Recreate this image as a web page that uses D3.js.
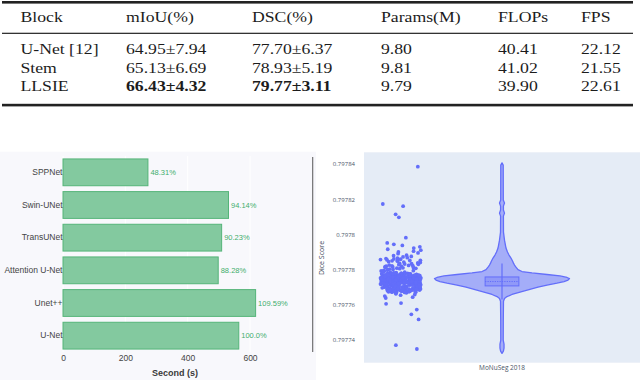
<!DOCTYPE html>
<html>
<head>
    <title>Block comparison, training time and Dice distribution</title>
    <script src="https://d3js.org/d3.v7.min.js"></script>
    <style>
        body {
            margin: 0;
            padding: 0;
            background-color: #fff;
        }
        svg {
            display: block;
        }
    </style>
</head>
<body>
    <svg id="figure"></svg>
    <script>
        // ---- table data ----
        const tableHeader = ['Block', 'mIoU(%)', 'DSC(%)', 'Params(M)', 'FLOPs', 'FPS'];
        const blocks = ['U-Net [12]', 'Stem', 'LLSIE'];
        const miou = ['64.95\u00b17.94', '65.13\u00b16.69', '66.43\u00b14.32'];
        const dsc = ['77.70\u00b16.37', '78.93\u00b15.19', '79.77\u00b13.11'];
        const params = ['9.80', '9.81', '9.79'];
        const flops = ['40.41', '41.02', '39.90'];
        const fps = ['22.12', '21.55', '22.61'];
        const bestBlock = 'LLSIE';

        // ---- bar chart data ----
        const methods = ['SPPNet', 'Swin-UNet', 'TransUNet', 'Attention U-Net', 'Unet++', 'U-Net'];
        const seconds = [272.5, 531, 509, 498, 618, 564];
        const relLabels = ['48.31%', '94.14%', '90.23%', '88.28%', '109.59%', '100.0%'];
        const barTicks = [0, 200, 400, 600];

        // ---- violin / strip data ----
        const dataset = 'MoNuSeg 2018';
        const diceTicks = [0.79774, 0.79776, 0.79778, 0.7978, 0.79782, 0.79784];
        const diceTickLabels = ['0.79774', '0.79776', '0.79778', '0.7978', '0.79782', '0.79784'];
        const stripScores = [
            0.7978385, 0.7978172, 0.7978160, 0.7978113, 0.7978096,
            0.7977980, 0.7977950, 0.7977942, 0.7977936,
            0.7977928, 0.7977921, 0.7977914, 0.7977909, 0.7977903, 0.7977899, 0.7977893, 0.7977889,
            0.7977880, 0.7977877, 0.7977873, 0.7977870, 0.7977866, 0.7977864, 0.7977861, 0.7977859,
            0.7977857, 0.7977855, 0.7977853, 0.7977852, 0.7977851, 0.7977850,
            0.7977848, 0.7977846, 0.7977843, 0.7977841, 0.7977839, 0.7977836, 0.7977834, 0.7977832,
            0.7977830, 0.7977828, 0.7977826, 0.7977824, 0.7977822, 0.7977821, 0.7977819, 0.7977818,
            0.7977817, 0.7977815, 0.7977813, 0.7977811, 0.7977810, 0.7977808, 0.7977806, 0.7977805,
            0.7977803, 0.7977801, 0.7977799, 0.7977797, 0.7977795, 0.7977794, 0.7977792, 0.7977790,
            0.7977788, 0.7977786, 0.7977784, 0.7977782, 0.7977781, 0.7977779,
            0.7977777, 0.7977776, 0.7977775, 0.7977774, 0.7977773, 0.7977772, 0.7977771, 0.7977770,
            0.7977769, 0.7977768, 0.7977768, 0.7977767, 0.7977766, 0.7977766, 0.7977765, 0.7977765,
            0.7977764, 0.7977764, 0.7977763, 0.7977763, 0.7977762, 0.7977762, 0.7977761, 0.7977761,
            0.7977760, 0.7977760, 0.7977759, 0.7977759, 0.7977758, 0.7977758, 0.7977758, 0.7977757,
            0.7977757, 0.7977757, 0.7977756, 0.7977756, 0.7977756, 0.7977755, 0.7977755, 0.7977755,
            0.7977754, 0.7977754, 0.7977754, 0.7977753, 0.7977753, 0.7977753, 0.7977752, 0.7977752,
            0.7977752, 0.7977751, 0.7977751, 0.7977751, 0.7977750, 0.7977750, 0.7977750, 0.7977749,
            0.7977749, 0.7977749, 0.7977748, 0.7977748, 0.7977748, 0.7977747, 0.7977747, 0.7977747,
            0.7977747, 0.7977746, 0.7977746, 0.7977746, 0.7977745, 0.7977745, 0.7977745, 0.7977744,
            0.7977744, 0.7977744, 0.7977743, 0.7977743, 0.7977743, 0.7977742, 0.7977742, 0.7977742,
            0.7977741, 0.7977741, 0.7977741, 0.7977740, 0.7977740, 0.7977739, 0.7977739, 0.7977738,
            0.7977738, 0.7977737, 0.7977737, 0.7977736, 0.7977736, 0.7977735, 0.7977735, 0.7977734,
            0.7977734, 0.7977733, 0.7977732, 0.7977731, 0.7977730, 0.7977729, 0.7977728, 0.7977727,
            0.7977726, 0.7977725, 0.7977724, 0.7977723, 0.7977722, 0.7977721, 0.7977720, 0.7977719,
            0.7977718, 0.7977717, 0.7977716, 0.7977714, 0.7977712, 0.7977710, 0.7977708, 0.7977706,
            0.7977704, 0.7977702, 0.7977700, 0.7977698, 0.7977696, 0.7977694, 0.7977692, 0.7977690,
            0.7977687, 0.7977684, 0.7977681, 0.7977678, 0.7977675, 0.7977672, 0.7977669, 0.7977666,
            0.7977776, 0.7977770, 0.7977763, 0.7977757, 0.7977751, 0.7977744, 0.7977738, 0.7977731,
            0.7977725, 0.7977718, 0.7977712, 0.7977705, 0.7977699, 0.7977692, 0.7977686, 0.7977679, 0.7977673,
            0.7977774, 0.7977768, 0.7977761, 0.7977755, 0.7977748, 0.7977742, 0.7977735, 0.7977729,
            0.7977722, 0.7977716, 0.7977709, 0.7977703, 0.7977696, 0.7977690, 0.7977683, 0.7977677, 0.7977670,
            0.7977777, 0.7977771, 0.7977765, 0.7977759, 0.7977752, 0.7977746, 0.7977740, 0.7977733,
            0.7977727, 0.7977720, 0.7977714, 0.7977707, 0.7977701, 0.7977694, 0.7977688, 0.7977681, 0.7977675,
            0.7977773, 0.7977767, 0.7977760, 0.7977754, 0.7977747, 0.7977741, 0.7977734, 0.7977728,
            0.7977721, 0.7977715, 0.7977708, 0.7977702, 0.7977695, 0.7977689, 0.7977682, 0.7977676, 0.7977669,
            0.7977775, 0.7977769, 0.7977762, 0.7977756, 0.7977750, 0.7977743, 0.7977737, 0.7977730,
            0.7977724, 0.7977717, 0.7977711, 0.7977704, 0.7977698, 0.7977691, 0.7977685, 0.7977678, 0.7977672,
            0.7977776, 0.7977769, 0.7977764, 0.7977758, 0.7977753, 0.7977745, 0.7977739, 0.7977732,
            0.7977726, 0.7977719, 0.7977713, 0.7977706, 0.7977700, 0.7977693, 0.7977687, 0.7977680, 0.7977674,
            0.7977772, 0.7977766, 0.7977759, 0.7977753, 0.7977746, 0.7977740, 0.7977733, 0.7977727,
            0.7977720, 0.7977714, 0.7977707, 0.7977701, 0.7977694, 0.7977688, 0.7977681, 0.7977675, 0.7977668,
            0.7977777, 0.7977770, 0.7977764, 0.7977757, 0.7977751, 0.7977744, 0.7977738, 0.7977731,
            0.7977725, 0.7977718, 0.7977712, 0.7977705, 0.7977699, 0.7977692, 0.7977686, 0.7977679, 0.7977673,
            0.7977774, 0.7977767, 0.7977761, 0.7977755, 0.7977749, 0.7977742, 0.7977736, 0.7977729,
            0.7977723, 0.7977716, 0.7977710, 0.7977703, 0.7977697, 0.7977690, 0.7977684, 0.7977677, 0.7977671,
            0.7977663, 0.7977660, 0.7977656, 0.7977652, 0.7977647, 0.7977641, 0.7977636,
            0.7977607, 0.7977603, 0.7977570, 0.7977543, 0.7977514, 0.7977367, 0.7977345
        ];
        // violin outline: score and relative density (peak = 1)
        const violinScores = [
            0.7978407, 0.7978394, 0.7978195, 0.7978178, 0.7978160, 0.7978138, 0.7978120, 0.7978103,
            0.7978012, 0.7977966, 0.7977921, 0.7977898, 0.7977881, 0.7977864, 0.7977847, 0.7977835,
            0.7977824, 0.7977812, 0.7977798, 0.7977787, 0.7977779, 0.7977770, 0.7977762, 0.7977753,
            0.7977747, 0.7977738, 0.7977730, 0.7977721, 0.7977710, 0.7977698, 0.7977684, 0.7977670,
            0.7977656, 0.7977644, 0.7977633, 0.7977618, 0.7977510, 0.7977396, 0.7977373, 0.7977350,
            0.7977333, 0.7977320
        ];
        const violinDensity = [
            0, 0.018, 0.019, 0.037, 0.021, 0.021, 0.037, 0.021,
            0.022, 0.037, 0.059, 0.081, 0.104, 0.133, 0.156, 0.170,
            0.185, 0.207, 0.237, 0.296, 0.444, 0.667, 0.859, 0.963,
            1, 0.978, 0.919, 0.815, 0.667, 0.533, 0.4, 0.267,
            0.148, 0.074, 0.037, 0.022, 0.019, 0.018, 0.03, 0.03,
            0.021, 0
        ];
        const boxStats = { lowerFence: 0.7977628, q1: 0.7977705, median: 0.7977730, q3: 0.7977756, upperFence: 0.7977833 };

        const svg = d3.select('#figure')
            .attr('width', 640)
            .attr('height', 380);

        svg.append('rect').attr('width', 640).attr('height', 380).attr('fill', '#fff');

        // ================= table =================
        const table = svg.append('g')
            .attr('font-family', '"Liberation Serif", "DejaVu Serif", serif')
            .attr('font-size', 15)
            .attr('fill', '#1c1c1c');
        const colX = [20.5, 126, 252, 381, 498, 581];
        const stretch = 1.18;

        function cell(x, y, txt, bold) {
            table.append('text')
                .attr('transform', `translate(${x},${y}) scale(${stretch},1)`)
                .attr('font-weight', bold ? 'bold' : null)
                .text(txt);
        }

        table.append('rect').attr('x', 2).attr('y', 1).attr('width', 631).attr('height', 2.6).attr('fill', '#222');
        table.append('rect').attr('x', 2).attr('y', 32.7).attr('width', 631).attr('height', 1.3).attr('fill', '#333');
        table.append('rect').attr('x', 2).attr('y', 103.8).attr('width', 631).attr('height', 2.6).attr('fill', '#222');

        tableHeader.forEach((h, j) => cell(colX[j], 21.7, h, false));
        const rowY = [54.3, 72.7, 91];
        blocks.forEach((b, i) => {
            const row = [b, miou[i], dsc[i], params[i], flops[i], fps[i]];
            row.forEach((t, j) => cell(colX[j], rowY[i], t, b === bestBlock && (j === 1 || j === 2)));
        });

        // ================= bar chart =================
        const barFont = '"Liberation Sans", Arial, sans-serif';
        svg.append('rect')
            .attr('x', 0).attr('y', 151.7)
            .attr('width', 316).attr('height', 228.3)
            .attr('fill', '#f8f8fc');

        const xBar = d3.scaleLinear().domain([0, 720]).range([63, 287.4]);
        const yBar = d3.scaleBand().domain(methods).range([156, 352]).paddingInner(0.18).paddingOuter(0.09);

        svg.append('g')
            .selectAll('line')
            .data(barTicks)
            .join('line')
            .attr('x1', d => xBar(d)).attr('x2', d => xBar(d))
            .attr('y1', 156).attr('y2', 352)
            .attr('stroke', '#fff')
            .attr('stroke-width', 1);

        const barData = methods.map((m, i) => ({ method: m, sec: seconds[i], label: relLabels[i] }));

        svg.append('g')
            .selectAll('rect')
            .data(barData)
            .join('rect')
            .attr('x', xBar(0))
            .attr('y', d => yBar(d.method))
            .attr('width', d => xBar(d.sec) - xBar(0))
            .attr('height', yBar.bandwidth())
            .attr('fill', '#83c99f')
            .attr('stroke', '#55b479')
            .attr('stroke-width', 1);

        svg.append('g')
            .selectAll('text')
            .data(barData)
            .join('text')
            .attr('x', d => xBar(d.sec) + 2.5)
            .attr('y', d => yBar(d.method) + yBar.bandwidth() / 2)
            .attr('dy', '0.35em')
            .attr('font-family', barFont)
            .attr('font-size', 7.5)
            .attr('fill', '#3fae6c')
            .text(d => d.label);

        const xAxisBar = svg.append('g')
            .attr('transform', 'translate(0,352)')
            .call(d3.axisBottom(xBar).tickValues(barTicks).tickSize(0).tickPadding(2.5));
        xAxisBar.select('.domain').remove();
        xAxisBar.selectAll('text')
            .attr('font-family', barFont)
            .attr('font-size', 8.5)
            .attr('fill', '#444');

        const yAxisBar = svg.append('g')
            .attr('transform', `translate(${xBar(0)},0)`)
            .call(d3.axisLeft(yBar).tickSize(0).tickPadding(0.5));
        yAxisBar.select('.domain').remove();
        yAxisBar.selectAll('text')
            .attr('font-family', barFont)
            .attr('font-size', 8.5)
            .attr('fill', '#444');

        svg.append('text')
            .attr('x', 175).attr('y', 376)
            .attr('text-anchor', 'middle')
            .attr('font-family', barFont)
            .attr('font-size', 9)
            .attr('font-weight', 'bold')
            .attr('fill', '#3a3a3a')
            .text('Second (s)');

        // separator line between the two panels
        svg.append('line')
            .attr('x1', 312.7).attr('x2', 312.7)
            .attr('y1', 157).attr('y2', 352)
            .attr('stroke', '#666')
            .attr('stroke-width', 1.1);

        // ================= violin / strip =================
        const plotFont = '"Open Sans", "Liberation Sans", sans-serif';
        const plotTop = 152.3, plotBottom = 362.7, plotLeft = 364, plotRight = 640;

        svg.append('rect')
            .attr('x', plotLeft).attr('y', plotTop)
            .attr('width', plotRight - plotLeft).attr('height', plotBottom - plotTop)
            .attr('fill', '#e5ecf6');

        const yV = d3.scaleLinear().domain([0.7977267, 0.7978467]).range([plotBottom, plotTop]);
        const xV = d3.scaleBand().domain([dataset]).range([plotLeft, plotRight]);
        const cx = xV(dataset) + xV.bandwidth() / 2;
        const vioHalf = 67.5;             // half width at peak density
        const pointPos = -1.5;            // strip offset, in violin half widths
        const jitterW = 0.3;

        const violinData = violinScores.map((v, i) => ({ v: v, d: violinDensity[i] }));
        const area = d3.area()
            .y(d => yV(d.v))
            .x0(d => cx - d.d * vioHalf)
            .x1(d => cx + d.d * vioHalf)
            .curve(d3.curveLinear);

        svg.append('path')
            .datum(violinData)
            .attr('d', area)
            .attr('fill', 'rgba(99,110,250,0.5)')
            .attr('stroke', '#636efa')
            .attr('stroke-width', 1.3)
            .attr('stroke-linejoin', 'round');

        // inner box
        const boxHalf = vioHalf * 0.25;
        svg.append('line')
            .attr('x1', cx).attr('x2', cx)
            .attr('y1', yV(boxStats.upperFence)).attr('y2', yV(boxStats.lowerFence))
            .attr('stroke', '#636efa')
            .attr('stroke-width', 1.2);
        svg.append('rect')
            .attr('x', cx - boxHalf)
            .attr('y', yV(boxStats.q3))
            .attr('width', boxHalf * 2)
            .attr('height', yV(boxStats.q1) - yV(boxStats.q3))
            .attr('fill', 'rgba(99,110,250,0.3)')
            .attr('stroke', '#636efa')
            .attr('stroke-width', 1);
        svg.append('line')
            .attr('x1', cx - boxHalf).attr('x2', cx + boxHalf)
            .attr('y1', yV(boxStats.median)).attr('y2', yV(boxStats.median))
            .attr('stroke', '#636efa')
            .attr('stroke-width', 1)
            .attr('stroke-dasharray', '1.2,1.2');

        // strip points, deterministic jitter by index
        function jit(i) {
            const s = Math.sin((i + 1) * 12.9898) * 43758.5453;
            return (s - Math.floor(s)) * 2 - 1;
        }
        const stripX = cx + pointPos * vioHalf;
        svg.append('g')
            .selectAll('circle')
            .data(stripScores)
            .join('circle')
            .attr('cx', (d, i) => stripX + jit(i) * jitterW * vioHalf)
            .attr('cy', d => yV(d))
            .attr('r', 1.9)
            .attr('fill', '#636efa');

        // axes
        const yAxisV = svg.append('g')
            .attr('transform', `translate(${plotLeft},0)`)
            .call(d3.axisLeft(yV).tickValues(diceTicks).tickFormat((d, i) => diceTickLabels[i]).tickSize(0).tickPadding(9));
        yAxisV.select('.domain').remove();
        yAxisV.selectAll('text')
            .attr('font-family', plotFont)
            .attr('font-size', 6)
            .attr('fill', '#4a5568');

        const xAxisV = svg.append('g')
            .attr('transform', `translate(0,${plotBottom})`)
            .call(d3.axisBottom(xV).tickSize(0).tickPadding(2.5));
        xAxisV.select('.domain').remove();
        xAxisV.selectAll('text')
            .attr('font-family', plotFont)
            .attr('font-size', 6.5)
            .attr('fill', '#4a5568');

        svg.append('text')
            .attr('transform', 'translate(324,258) rotate(-90)')
            .attr('text-anchor', 'middle')
            .attr('font-family', plotFont)
            .attr('font-size', 7)
            .attr('fill', '#3b4556')
            .text('Dice Score');
    </script>
</body>
</html>
